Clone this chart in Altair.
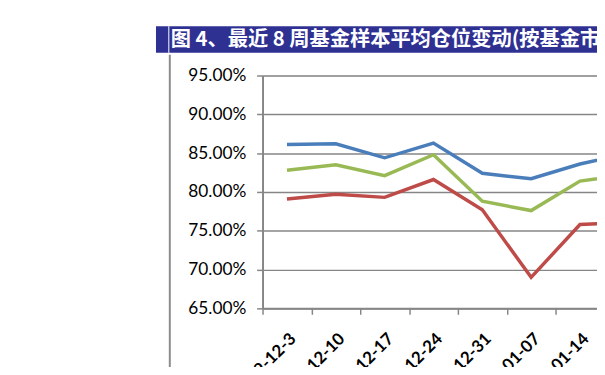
import altair as alt
import pandas as pd

dates = ["2009-12-3", "2009-12-10", "2009-12-17", "2009-12-24",
         "2009-12-31", "2010-01-07", "2010-01-14", "2010-01-21"]
series_names = ["股票型", "偏股混合型", "配置混合型"]
stock = [0.861, 0.862, 0.844, 0.863, 0.824, 0.817, 0.836, 0.850]
mixed = [0.828, 0.835, 0.821, 0.848, 0.788, 0.776, 0.814, 0.823]
config = [0.791, 0.797, 0.793, 0.816, 0.777, 0.690, 0.758, 0.761]
colors = ["#4A7EBB", "#98B954", "#BE4B48"]
y_ticks = [0.65, 0.70, 0.75, 0.80, 0.85, 0.90, 0.95]
title_text = "图 4、最近 8 周基金样本平均仓位变动(按基金市值加权)"

rows = []
for name, vals in zip(series_names, [stock, mixed, config]):
    for d, v in zip(dates, vals):
        rows.append({"date": d, "series": name, "value": v})
df = pd.DataFrame(rows)

lines = alt.Chart(df).mark_line(strokeWidth=3.5).encode(
    x=alt.X("date:N", sort=dates, bandPosition=0.5,
            scale=alt.Scale(type="band", paddingInner=0, paddingOuter=0, range=[0, 396]),
            axis=alt.Axis(title=None, labelAngle=-45, labelAlign="right",
                          labelBaseline="middle", labelFont="Lato",
                          labelFontSize=17, labelFontWeight="bold",
                          labelColor="#000000", labelPadding=22, labelOffset=6,
                          tickBand="extent", tickSize=6, tickColor="#868686",
                          tickWidth=1.5, domainColor="#868686", domainWidth=2,
                          grid=False)),
    y=alt.Y("value:Q", scale=alt.Scale(domain=[0.65, 0.95], nice=False, zero=False),
            axis=alt.Axis(title=None, values=y_ticks, format=".2%",
                          labelFont="Lato", labelFontSize=17.5, labelColor="#000000",
                          labelPadding=11, tickSize=6, tickColor="#868686",
                          tickWidth=1.5, domainColor="#868686", domainWidth=2,
                          gridColor="#868686", gridWidth=1.5)),
    color=alt.Color("series:N", sort=series_names,
                    scale=alt.Scale(domain=series_names, range=colors), legend=None),
)

one = pd.DataFrame({"a": [0]})
bar = alt.Chart(one).mark_rect(color="#2E3092").encode(
    x=alt.value(-108), x2=alt.value(400), y=alt.value(-50), y2=alt.value(-23))
bar_line = alt.Chart(one).mark_rule(color="#FFFFFF", strokeWidth=1).encode(
    x=alt.value(-95), y=alt.value(-50), y2=alt.value(-23))
frame = alt.Chart(one).mark_rule(color="#8C8C8C", strokeWidth=2).encode(
    x=alt.value(-94), y=alt.value(-21), y2=alt.value(320))
title = alt.Chart(pd.DataFrame({"t": [title_text]})).mark_text(
    align="left", baseline="middle", color="#FFFFFF", fontSize=20.5,
    fontWeight="bold", font="Noto Sans CJK SC").encode(
    x=alt.value(-93), y=alt.value(-36), text="t:N")

chart = alt.layer(bar, bar_line, frame, title, lines).properties(
    width=339, height=236,
    autosize=alt.AutoSizeParams(type="none"),
    padding={"left": 258, "top": 66, "right": 0, "bottom": 57},
).configure_view(stroke=None).configure(background="#FFFFFF")

chart.save("out.html", embed_options={"renderer": "svg", "actions": False})
